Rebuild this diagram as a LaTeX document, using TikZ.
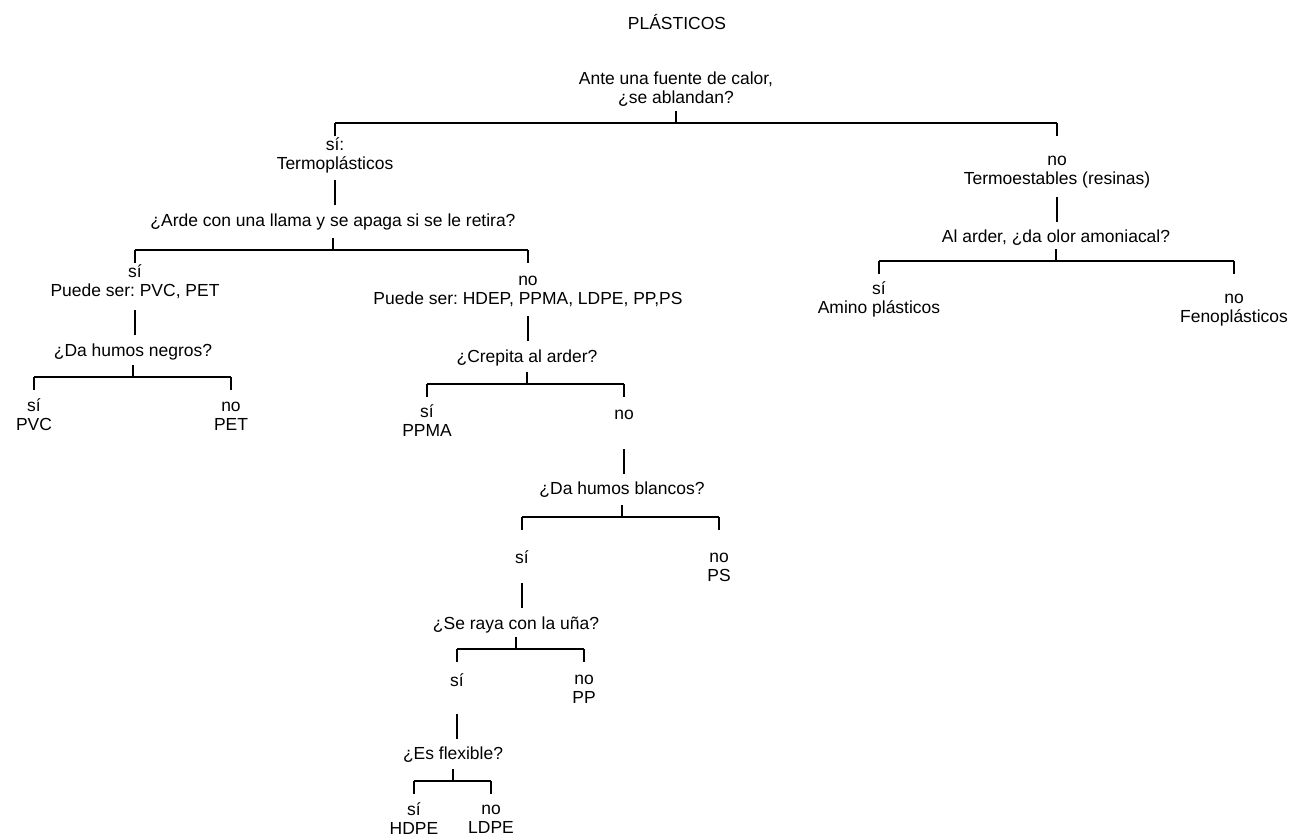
\documentclass[tikz,border=0pt]{standalone}
\usepackage{fontspec}
\setmainfont{Liberation Sans}
\usetikzlibrary{calc}
\frenchspacing

\begin{document}
\begin{tikzpicture}[x=0.75pt, y=-0.75pt, line width=0.9pt,
    txt/.style={align=center, inner sep=0pt, font=\fontsize{13.1}{14.3}\selectfont}]

  \useasboundingbox (0, 0) rectangle (1290, 838);

  \pgfmathsetmacro{\tick}{12}
  \pgfmathsetmacro{\drop}{13}
  \pgfmathsetmacro{\gap}{8}
  \pgfmathsetmacro{\stem}{25}

  \node[txt] (title) at (677, 22) {PLÁSTICOS};
  \node[txt] (q1) at (676, 89) {Ante una fuente de calor,\\¿se ablandan?};

  \node[txt] (termo) at (335, 155) {sí:\\Termoplásticos};
  \node[txt] (resinas) at (1057, 172) {no\\Termoestables (resinas)};

  \node[txt] (q2) at (333, 222) {¿Arde con una llama y se apaga si se le retira?};
  \node[txt] (q8) at (1056, 238) {Al arder, ¿da olor amoniacal?};

  \node[txt] (pvcpet) at (135, 282) {sí\\Puede ser: PVC, PET};
  \node[txt] (hdep) at (528, 291) {no\\Puede ser: HDEP, PPMA, LDPE, PP,PS};
  \node[txt] (amino) at (879, 299) {sí\\Amino plásticos};
  \node[txt] (feno) at (1234, 310) {no\\Fenoplásticos};

  \node[txt] (q3) at (133, 352) {¿Da humos negros?};
  \node[txt] (q4) at (527, 358) {¿Crepita al arder?};
  \node[txt] (pvc) at (34, 415) {sí\\PVC};
  \node[txt] (pet) at (231, 416) {no\\PET};
  \node[txt] (ppma) at (427, 421) {sí\\PPMA};
  \node[txt] (no4) at (624, 415) {no};

  \node[txt] (q5) at (622, 490) {¿Da humos blancos?};
  \node[txt] (si5) at (522, 557) {sí};
  \node[txt] (ps) at (719, 567) {no\\PS};

  \node[txt] (q6) at (516, 625) {¿Se raya con la uña?};
  \node[txt] (si6) at (457, 680) {sí};
  \node[txt] (pp) at (584, 689) {no\\PP};

  \node[txt] (q7) at (453, 755) {¿Es flexible?};
  \node[txt] (hdpe) at (414, 819) {sí\\HDPE};
  \node[txt] (ldpe) at (491, 819) {no\\LDPE};

  % forks: question, height of the bar, the two answers
  \foreach \q/\y/\a/\b in {q1/123/termo/resinas, q2/250/pvcpet/hdep, q8/261/amino/feno,
                           q3/377/pvc/pet, q4/384/ppma/no4, q5/517/si5/ps,
                           q6/649/si6/pp, q7/781/hdpe/ldpe} {
    \coordinate (\q-f) at (\q.south |- 0,\y);
    \draw (\q-f) -- ++(0, -\tick);
    \draw (\a.north |- \q-f) -- (\b.north |- \q-f);
    \draw (\a.north |- \q-f) -- ++(0, \drop);
    \draw (\b.north |- \q-f) -- ++(0, \drop);
  }

  % stems from an answer down to the next question
  \foreach \a/\b in {termo/q2, resinas/q8, pvcpet/q3, hdep/q4, no4/q5, si5/q6, si6/q7} {
    \draw (\a.south |- \b.north) ++(0, -\gap) -- ++(0, -\stem);
  }

\end{tikzpicture}
\end{document}
